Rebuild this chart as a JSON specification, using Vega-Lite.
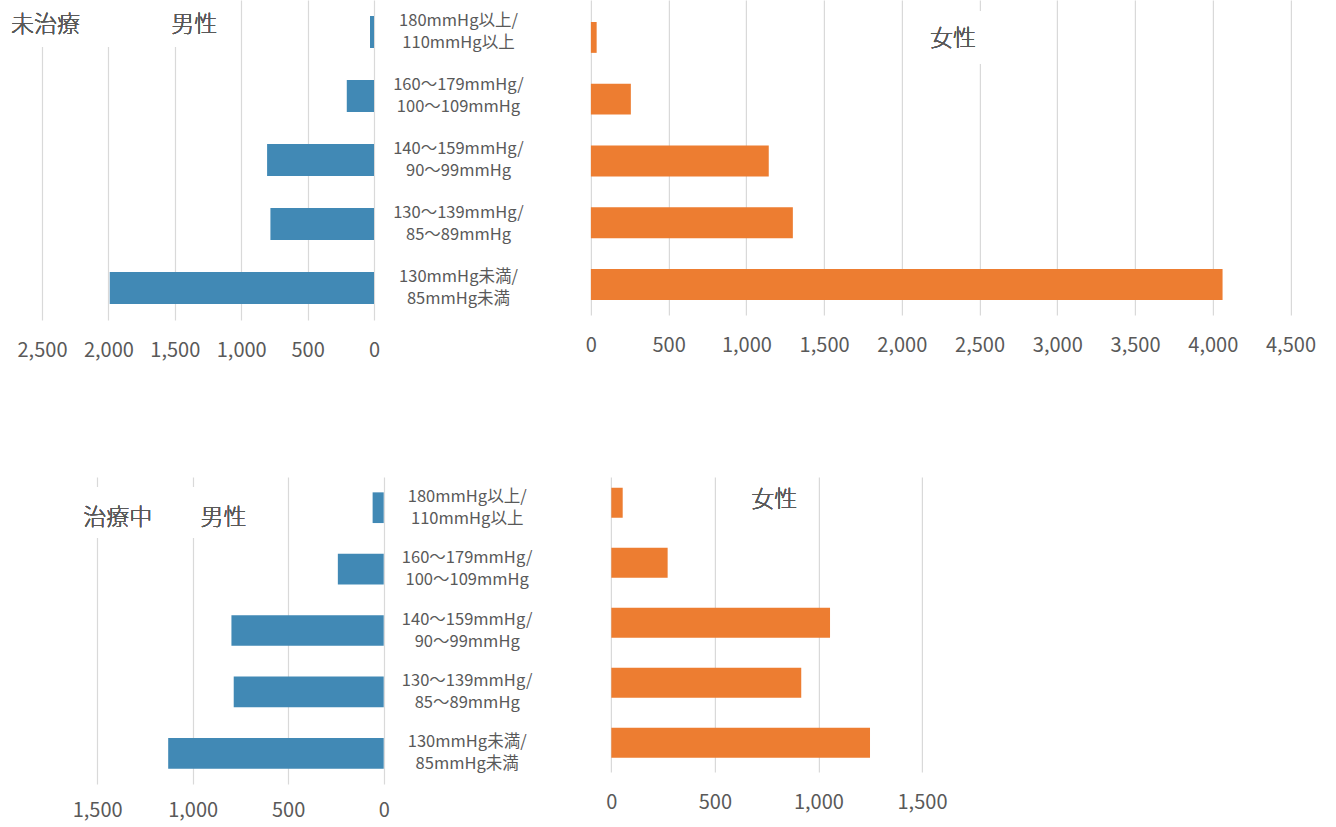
{
  "$schema": "https://vega.github.io/schema/vega-lite/v6.json",
  "padding": {"left": 0, "top": 0, "right": 0, "bottom": 4},
  "autosize": {"type": "pad"},
  "background": "white",
  "config": {
    "font": "Noto Sans CJK JP",
    "view": {"stroke": null},
    "axis": {"gridColor": "#D9D9D9", "gridWidth": 1.2, "labelColor": "#595959", "domain": false, "ticks": false, "tickSize": 0, "title": null},
    "text": {"font": "Noto Sans CJK JP"}
  },
  "data": {
    "values": [
      {"treat": "未治療", "sex": "男性", "bp": "180mmHg以上/110mmHg以上", "n": 30},
      {"treat": "未治療", "sex": "男性", "bp": "160〜179mmHg/100〜109mmHg", "n": 205},
      {"treat": "未治療", "sex": "男性", "bp": "140〜159mmHg/90〜99mmHg", "n": 805},
      {"treat": "未治療", "sex": "男性", "bp": "130〜139mmHg/85〜89mmHg", "n": 780},
      {"treat": "未治療", "sex": "男性", "bp": "130mmHg未満/85mmHg未満", "n": 1990},
      {"treat": "未治療", "sex": "女性", "bp": "180mmHg以上/110mmHg以上", "n": 37},
      {"treat": "未治療", "sex": "女性", "bp": "160〜179mmHg/100〜109mmHg", "n": 257},
      {"treat": "未治療", "sex": "女性", "bp": "140〜159mmHg/90〜99mmHg", "n": 1144},
      {"treat": "未治療", "sex": "女性", "bp": "130〜139mmHg/85〜89mmHg", "n": 1299},
      {"treat": "未治療", "sex": "女性", "bp": "130mmHg未満/85mmHg未満", "n": 4063},
      {"treat": "治療中", "sex": "男性", "bp": "180mmHg以上/110mmHg以上", "n": 58},
      {"treat": "治療中", "sex": "男性", "bp": "160〜179mmHg/100〜109mmHg", "n": 240},
      {"treat": "治療中", "sex": "男性", "bp": "140〜159mmHg/90〜99mmHg", "n": 797},
      {"treat": "治療中", "sex": "男性", "bp": "130〜139mmHg/85〜89mmHg", "n": 785},
      {"treat": "治療中", "sex": "男性", "bp": "130mmHg未満/85mmHg未満", "n": 1128},
      {"treat": "治療中", "sex": "女性", "bp": "180mmHg以上/110mmHg以上", "n": 55},
      {"treat": "治療中", "sex": "女性", "bp": "160〜179mmHg/100〜109mmHg", "n": 272},
      {"treat": "治療中", "sex": "女性", "bp": "140〜159mmHg/90〜99mmHg", "n": 1056},
      {"treat": "治療中", "sex": "女性", "bp": "130〜139mmHg/85〜89mmHg", "n": 917},
      {"treat": "治療中", "sex": "女性", "bp": "130mmHg未満/85mmHg未満", "n": 1249}
    ]
  },
  "columns": 2,
  "align": "none",
  "bounds": "flush",
  "spacing": {"row": 157, "column": 206.9},
  "concat": [
    {
      "width": 332,
      "height": 320,
      "transform": [{"filter": "datum.treat === '未治療' && datum.sex === '男性'"}],
      "encoding": {
        "x": {"field": "n", "type": "quantitative",
          "scale": {"domain": [0, 2500], "reverse": true, "nice": false, "zero": true},
          "axis": {"values": [0, 500, 1000, 1500, 2000, 2500], "format": ",.0f", "labelFontSize": 20, "labelPadding": 20, "labelFlush": false, "labelOverlap": false, "grid": true}},
        "y": {"field": "bp", "type": "nominal",
          "scale": {"domain": ["180mmHg以上/110mmHg以上", "160〜179mmHg/100〜109mmHg", "140〜159mmHg/90〜99mmHg", "130〜139mmHg/85〜89mmHg", "130mmHg未満/85mmHg未満"], "paddingInner": 0.5, "paddingOuter": 0.25},
          "axis": {"orient": "right", "labelAlign": "center", "labelPadding": 84, "labelOffset": -11, "labelFontSize": 16.5, "labelLineHeight": 22, "labelLimit": 0, "grid": false,
            "labelExpr": "[split(datum.label, '/')[0] + '/', split(datum.label, '/')[1]]"}}
      },
      "layer": [
        {"mark": {"type": "bar", "color": "white", "height": 47, "yOffset": -8.5},
         "encoding": {"x": {"datum": 2809, "type": "quantitative"}, "x2": {"datum": 1152}, "y": {"datum": "180mmHg以上/110mmHg以上", "type": "nominal"}}},
        {"mark": {"type": "bar", "color": "#4189B5"}},
        {"mark": {"type": "text", "fontSize": 23, "fontWeight": 300, "color": "#595959", "dy": -7},
         "encoding": {"x": {"datum": 2474, "type": "quantitative"}, "y": {"datum": "180mmHg以上/110mmHg以上", "type": "nominal"}, "text": {"value": "未治療"}}},
        {"mark": {"type": "text", "fontSize": 23, "fontWeight": 300, "color": "#595959", "dy": -7},
         "encoding": {"x": {"datum": 1353, "type": "quantitative"}, "y": {"datum": "180mmHg以上/110mmHg以上", "type": "nominal"}, "text": {"value": "男性"}}}
      ]
    },
    {
      "width": 699.6,
      "height": 315,
      "transform": [{"filter": "datum.treat === '未治療' && datum.sex === '女性'"}],
      "encoding": {
        "x": {"field": "n", "type": "quantitative",
          "scale": {"domain": [0, 4500], "nice": false},
          "axis": {"values": [0, 500, 1000, 1500, 2000, 2500, 3000, 3500, 4000, 4500], "format": ",.0f", "labelFontSize": 20, "labelPadding": 20, "labelFlush": false, "labelOverlap": false, "grid": true}},
        "y": {"field": "bp", "type": "nominal",
          "scale": {"domain": ["180mmHg以上/110mmHg以上", "160〜179mmHg/100〜109mmHg", "140〜159mmHg/90〜99mmHg", "130〜139mmHg/85〜89mmHg", "130mmHg未満/85mmHg未満"], "paddingInner": 0.5, "paddingOuter": 0.3, "align": 0.593},
          "axis": null}
      },
      "layer": [
        {"mark": {"type": "bar", "color": "white", "height": 52},
         "encoding": {"x": {"datum": 2093, "type": "quantitative"}, "x2": {"datum": 2575}, "y": {"datum": "180mmHg以上/110mmHg以上", "type": "nominal"}}},
        {"mark": {"type": "bar", "color": "#ED7D31"}},
        {"mark": {"type": "text", "fontSize": 23, "fontWeight": 300, "color": "#595959", "dy": 2},
         "encoding": {"x": {"datum": 2329, "type": "quantitative"}, "y": {"datum": "180mmHg以上/110mmHg以上", "type": "nominal"}, "text": {"value": "女性"}}}
      ]
    },
    {
      "width": 341.7,
      "height": 307,
      "transform": [{"filter": "datum.treat === '治療中' && datum.sex === '男性'"}],
      "encoding": {
        "x": {"field": "n", "type": "quantitative",
          "scale": {"domain": [0, 1788.5], "reverse": true, "nice": false, "zero": true},
          "axis": {"values": [0, 500, 1000, 1500], "format": ",.0f", "labelFontSize": 20, "labelPadding": 16, "labelFlush": false, "labelOverlap": false, "grid": true}},
        "y": {"field": "bp", "type": "nominal",
          "scale": {"domain": ["180mmHg以上/110mmHg以上", "160〜179mmHg/100〜109mmHg", "140〜159mmHg/90〜99mmHg", "130〜139mmHg/85〜89mmHg", "130mmHg未満/85mmHg未満"], "paddingInner": 0.5, "paddingOuter": 0.25},
          "axis": {"orient": "right", "labelAlign": "center", "labelPadding": 83, "labelOffset": -11, "labelFontSize": 16.5, "labelLineHeight": 22, "labelLimit": 0, "grid": false,
            "labelExpr": "[split(datum.label, '/')[0] + '/', split(datum.label, '/')[1]]"}}
      },
      "layer": [
        {"mark": {"type": "bar", "color": "white", "height": 51, "yOffset": 4.8},
         "encoding": {"x": {"datum": 1638, "type": "quantitative"}, "x2": {"datum": 641}, "y": {"datum": "180mmHg以上/110mmHg以上", "type": "nominal"}}},
        {"mark": {"type": "bar", "color": "#4189B5"}},
        {"mark": {"type": "text", "fontSize": 23, "fontWeight": 300, "color": "#595959", "dy": 10},
         "encoding": {"x": {"datum": 1392, "type": "quantitative"}, "y": {"datum": "180mmHg以上/110mmHg以上", "type": "nominal"}, "text": {"value": "治療中"}}},
        {"mark": {"type": "text", "fontSize": 23, "fontWeight": 300, "color": "#595959", "dy": 10},
         "encoding": {"x": {"datum": 838, "type": "quantitative"}, "y": {"datum": "180mmHg以上/110mmHg以上", "type": "nominal"}, "text": {"value": "男性"}}}
      ]
    },
    {
      "width": 331.1,
      "height": 295,
      "transform": [{"filter": "datum.treat === '治療中' && datum.sex === '女性'"}],
      "encoding": {
        "x": {"field": "n", "type": "quantitative",
          "scale": {"domain": [-98.5, 1500], "nice": false, "zero": false},
          "axis": {"values": [0, 500, 1000, 1500], "format": ",.0f", "labelFontSize": 20, "labelPadding": 20, "labelFlush": false, "labelOverlap": false, "grid": true}},
        "y": {"field": "bp", "type": "nominal",
          "scale": {"domain": ["180mmHg以上/110mmHg以上", "160〜179mmHg/100〜109mmHg", "140〜159mmHg/90〜99mmHg", "130〜139mmHg/85〜89mmHg", "130mmHg未満/85mmHg未満"], "paddingInner": 0.5, "paddingOuter": 0.2083, "align": 0.43},
          "axis": null}
      },
      "layer": [
        {"mark": {"type": "bar", "color": "#ED7D31"}},
        {"mark": {"type": "text", "fontSize": 23, "fontWeight": 300, "color": "#595959", "dy": -3},
         "encoding": {"x": {"datum": 787, "type": "quantitative"}, "y": {"datum": "180mmHg以上/110mmHg以上", "type": "nominal"}, "text": {"value": "女性"}}}
      ]
    }
  ]
}
